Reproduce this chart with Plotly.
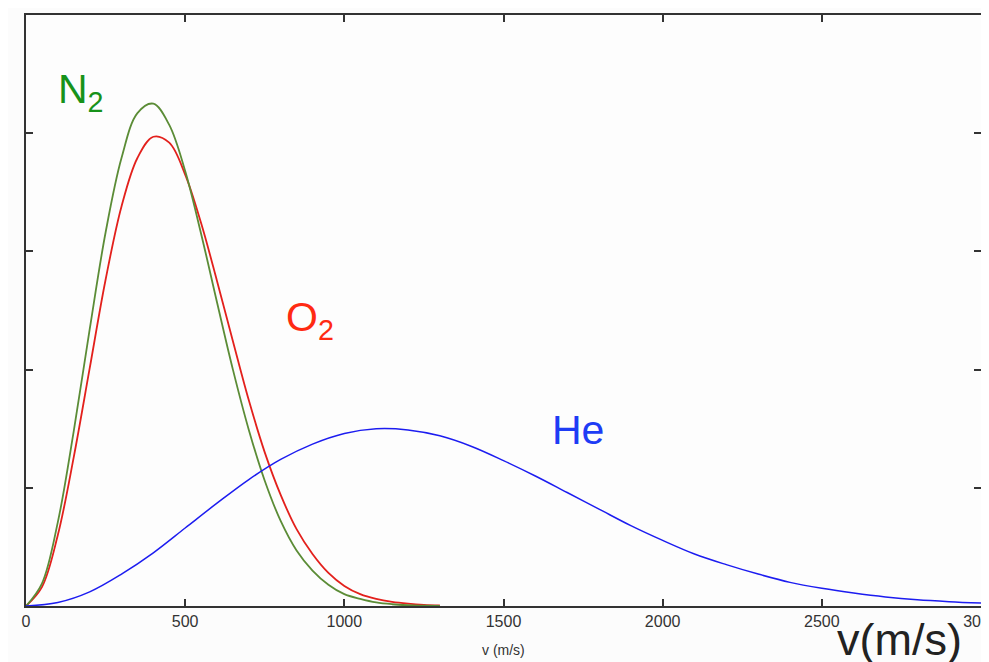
import plotly.graph_objects as go

# Speeds (m/s) sampled for the light-gas curves
v_light = [0, 50, 100, 150, 200, 250, 300, 350, 400, 450, 500, 550, 600, 650, 700,
           750, 800, 850, 900, 950, 1000, 1050, 1100, 1150, 1200, 1250, 1300]
# N2 distribution (arbitrary units)
n2_vals = [0, 0.19, 0.71, 1.48, 2.34, 3.16, 3.79, 4.17, 4.25, 4.07, 3.68, 3.15, 2.57, 2.00, 1.49,
           1.06, 0.72, 0.47, 0.30, 0.18, 0.10, 0.06, 0.03, 0.015, 0.007, 0.003, 0.0]
# O2 distribution (arbitrary units)
o2_vals = [0, 0.16, 0.60, 1.26, 2.01, 2.76, 3.38, 3.79, 3.97, 3.92, 3.65, 3.24, 2.75, 2.24, 1.74,
           1.30, 0.94, 0.65, 0.44, 0.28, 0.17, 0.10, 0.06, 0.035, 0.02, 0.01, 0.005]

# He distribution
v_he = [0, 100, 200, 300, 400, 500, 600, 700, 800, 900, 1000, 1100, 1200, 1300, 1400, 1500,
        1600, 1700, 1800, 1900, 2000, 2100, 2200, 2300, 2400, 2500, 2600, 2700, 2800, 2900, 3000]
he_vals = [0, 0.03, 0.12, 0.27, 0.45, 0.66, 0.87, 1.07, 1.24, 1.37, 1.46, 1.50, 1.49, 1.44, 1.35,
           1.23, 1.10, 0.96, 0.82, 0.68, 0.555, 0.44, 0.35, 0.27, 0.20, 0.15, 0.11, 0.077, 0.053,
           0.037, 0.025]

x_ticks = [0, 500, 1000, 1500, 2000, 2500, 3000]
x_tick_labels = ["0", "500", "1000", "1500", "2000", "2500", "3000"]
y_ticks = [1, 2, 3, 4]

fig = go.Figure()
fig.add_trace(go.Scatter(x=v_light, y=o2_vals, mode="lines",
                         line=dict(color="#e3201c", width=1.8, shape="spline"), name="O2"))
fig.add_trace(go.Scatter(x=v_light, y=n2_vals, mode="lines",
                         line=dict(color="#5b8c36", width=1.8, shape="spline"), name="N2"))
fig.add_trace(go.Scatter(x=v_he, y=he_vals, mode="lines",
                         line=dict(color="#1c1cf0", width=1.5, shape="spline"), name="He"))

font_main = "Liberation Sans, Arial, Helvetica, sans-serif"

fig.update_layout(
    width=981, height=654,
    margin=dict(l=18, r=8, t=7, b=56),
    paper_bgcolor="#fcfcfc", plot_bgcolor="#fdfdfd",
    showlegend=False,
    font=dict(family=font_main, color="#333333"),
    xaxis=dict(range=[0, 3000], tickvals=x_ticks, ticktext=x_tick_labels,
               ticks="inside", ticklen=7, tickwidth=1.5, tickcolor="#333333",
               showline=True, linecolor="#333333", linewidth=2, mirror="ticks",
               showgrid=False, zeroline=False, automargin=False,
               ticklabeloverflow="allow",
               tickfont=dict(size=16, color="#333333")),
    yaxis=dict(range=[0, 5], tickvals=y_ticks, showticklabels=False,
               ticks="inside", ticklen=7, tickwidth=1.5, tickcolor="#333333",
               showline=True, linecolor="#333333", linewidth=2, mirror="ticks",
               showgrid=False, zeroline=False, automargin=False),
)

# Gas labels
fig.add_annotation(x=95, y=4.35, xref="x", yref="y", xanchor="left", yanchor="middle",
                   text="N<sub>2</sub>", showarrow=False,
                   font=dict(size=41, color="#17921a", family=font_main))
fig.add_annotation(x=812, y=2.42, xref="x", yref="y", xanchor="left", yanchor="middle",
                   text="O<sub>2</sub>", showarrow=False,
                   font=dict(size=41, color="#ff2a12", family=font_main))
fig.add_annotation(x=1645, y=1.49, xref="x", yref="y", xanchor="left", yanchor="middle",
                   text="He", showarrow=False,
                   font=dict(size=41, color="#1e3cf5", family=font_main))

# Small axis title
fig.add_annotation(x=(503 - 26) / 955, y=(606 - 650) / 591, xref="paper", yref="paper",
                   xanchor="center", yanchor="middle", text="v (m/s)", showarrow=False,
                   font=dict(size=14, color="#333333", family=font_main))
# Large axis title
fig.add_annotation(x=(899 - 26) / 955, y=(606 - 639) / 591, xref="paper", yref="paper",
                   xanchor="center", yanchor="middle", text="v(m/s)", showarrow=False,
                   font=dict(size=45, color="#222222", family=font_main))

fig.write_html("out.html")
